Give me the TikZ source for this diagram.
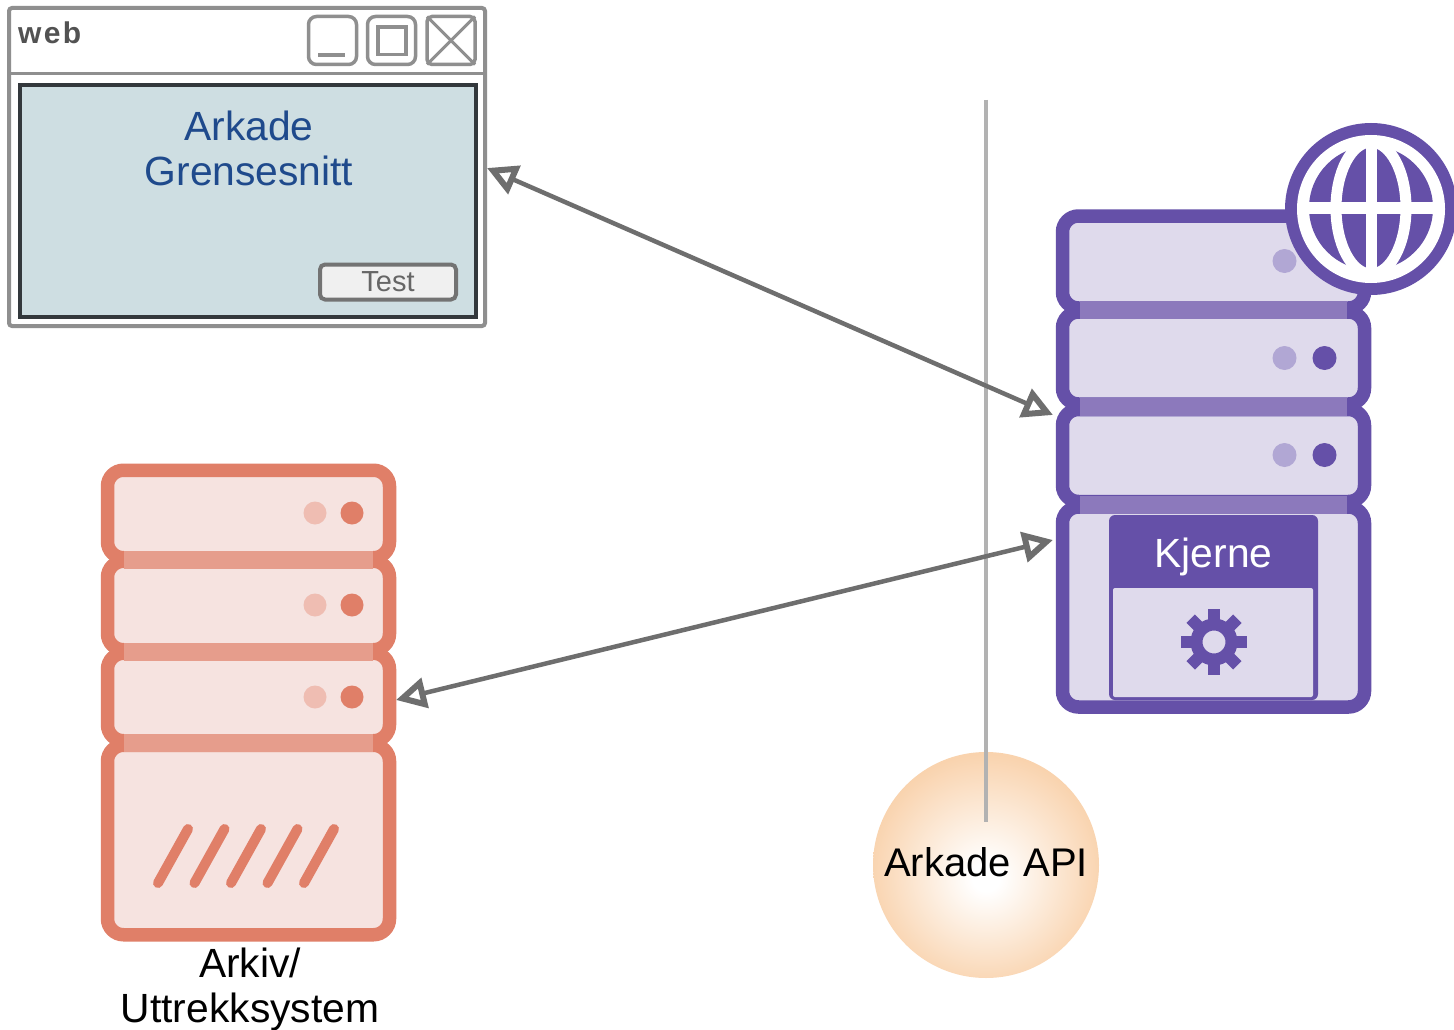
\documentclass[tikz,border=0pt]{standalone}
\usepackage{fontspec}
\setmainfont{Liberation Sans}
\usetikzlibrary{arrows.meta}
\definecolor{purpledark}{HTML}{6550A8}
\definecolor{purplelight}{HTML}{DFDAEC}
\definecolor{purpleband}{HTML}{8C79BC}
\definecolor{purpledot}{HTML}{B1A7D4}
\definecolor{coraldark}{HTML}{E07F68}
\definecolor{corallight}{HTML}{F6E3E0}
\definecolor{coralband}{HTML}{E69D8C}
\definecolor{coraldot}{HTML}{EFBDB2}
\definecolor{wingray}{HTML}{8F8F8F}
\definecolor{arrowgray}{HTML}{6E6E6E}
\definecolor{screenfill}{HTML}{CEDEE2}
\definecolor{screenedge}{HTML}{33383C}
\definecolor{guiblue}{HTML}{1F4A8C}
\definecolor{apiedge}{HTML}{F9D3AE}
\pgfdeclareradialshading{apiglow}{\pgfpoint{0bp}{-3bp}}{color(0bp)=(white); color(3bp)=(white); color(26bp)=(apiedge); color(50bp)=(apiedge)}
\tikzset{
  box/.style={inner sep=0pt,outer sep=0pt,minimum width=#1},
  unit/.style n args={3}{box=#1,minimum height=#2,rounded corners=16pt,line width=13.5pt,draw=#3dark,fill=#3light},
  band/.style={inner sep=0pt,outer sep=0pt,minimum height=18pt,fill=#1band},
  dot/.style={circle,inner sep=0pt,outer sep=0pt,minimum size=#1},
  winbtn/.style={box=48pt,minimum height=48pt,draw=wingray,line width=3.5pt,rounded corners=8pt},
  label/.style={font=\fontsize{40.8pt}{45pt}\selectfont,align=center,inner sep=0pt},
  link/.style={draw=arrowgray,line width=4.5pt,{Triangle[open,length=30pt,width=30pt,line width=6pt]}-{Triangle[open,length=30pt,width=30pt,line width=6pt]}}
}
\begin{document}
\begin{tikzpicture}[x=1pt,y=-1pt]
  \useasboundingbox (0,0) rectangle (1454,1030);
  \fill[white] (0,0) rectangle (1454,1030);
  % window
  \node[box=476pt,minimum height=318pt,draw=wingray,line width=4pt,rounded corners=3pt,fill=white] (webwin) at (247,167) {};
  \draw[wingray,line width=3.5pt] (webwin.west |- 0,73.5) coordinate (barleft) -- (webwin.east |- 0,73.5) coordinate (barright);
  \node[anchor=base west,inner sep=0pt,font=\fontsize{30pt}{30pt}\selectfont\bfseries\addfontfeature{LetterSpace=8},text=black!68] (webtitle) at (18,44) {web};
  \node[winbtn] (minbtn) at (332.5,40.5) {};
  \node[winbtn] (maxbtn) at (391.5,40.5) {};
  \node[winbtn,rounded corners=5pt] (closebtn) at (451,40.5) {};
  \draw[wingray,line width=3.5pt] (318,55) -- (345,55);
  \draw[wingray,line width=3.5pt] (378,27) rectangle (406,54.5);
  \draw[wingray,line width=3pt] (closebtn.north west) -- (closebtn.south east);
  \draw[wingray,line width=3pt] (closebtn.north east) -- (closebtn.south west);
  \node[box=456pt,minimum height=232pt,draw=screenedge,line width=4pt,fill=screenfill] (screen) at (248,201) {};
  \node[label,text=guiblue] (guitext) at (249,148) {Arkade\\ Grensesnitt};
  \node[box=136pt,minimum height=35pt,draw=black!55,line width=4pt,rounded corners=5pt,fill=black!6,text=black!60,font=\fontsize{29pt}{29pt}\selectfont] (testbtn) at (388,282) {Test};
  % separator line and API circle
  \node[dot=226pt,shading=apiglow] (api) at (986,865) {};
  \coordinate (apitop) at (986,100);
  \coordinate (apiend) at (986,822);
  \draw[black!30,line width=4.5pt] (apitop) -- (apiend);
  \node[label,font=\fontsize{40pt}{45pt}\selectfont,text=black] (apitext) at (986,862) {Arkade\hspace{1.5pt} API};
  % archive server
  \node[unit={282pt}{87.5pt}{coral}] (arka) at (248.5,514) {};
  \node[unit={282pt}{88.5pt}{coral}] (arkb) at (248.5,605.5) {};
  \node[unit={282pt}{87.5pt}{coral}] (arkc) at (248.5,697) {};
  \node[unit={282pt}{189.5pt}{coral}] (arkd) at (248.5,840) {};
  \foreach \y in {559.5,651.5,743} {
    \node[band=coral,minimum width=249pt] at (248.5,\y) {};
  }
  \foreach \y in {513,605,697} {
    \node[dot=23pt,fill=coraldot] at (315,\y) {};
    \node[dot=23pt,fill=coraldark] at (352,\y) {};
  }
  \foreach \i in {0,...,4} {
    \draw[coraldark,line width=10pt,line cap=round] (158+36.5*\i,883) -- (188+36.5*\i,829);
  }
  \node[label,text=black] (arktext) at (250,989) {Arkiv/\\ Uttrekksystem};
  % core server
  \node[unit={302pt}{92pt}{purple}] (kjea) at (1213.5,262) {};
  \node[unit={302pt}{92pt}{purple}] (kjeb) at (1213.5,358) {};
  \node[unit={302pt}{92pt}{purple}] (kjec) at (1213.5,455.5) {};
  \node[unit={302pt}{200pt}{purple}] (kjed) at (1213.5,607) {};
  \foreach \y in {310,406.5,504.5} {
    \node[band=purple,minimum width=267pt] at (1213.5,\y) {};
  }
  \foreach \y in {261,358,455} {
    \node[dot=24pt,fill=purpledot] at (1284.5,\y) {};
  }
  \foreach \y in {358,455} {
    \node[dot=24pt,fill=purpledark] at (1324.5,\y) {};
  }
  \node[box=209pt,minimum height=185pt,fill=purpledark,rounded corners=6pt] (core) at (1213.5,607.5) {};
  \node[box=200pt,minimum height=109pt,fill=purplelight,rounded corners=2pt] (corebody) at (1213,642.5) {};
  \node[label,text=white] (coretext) at (1213.5,557) {Kjerne};
  % gear
  \foreach \a in {0,45,...,315} {
    \fill[purpledark,rotate around={\a:(1214,642)}] (1208,609) rectangle (1220,630);
  }
  \node[dot=35pt,draw=purpledark,line width=12pt,fill=purplelight] (gear) at (1214,642) {};
  % globe
  \node[dot=172pt,fill=purpledark] (globe) at (1371,209) {};
  \node[dot=148pt,fill=white] (globering) at (1371,209) {};
  \node[dot=124pt,fill=purpledark] (globedisc) at (1371,208) {};
  \draw[white,line width=11pt] (1371,208) ellipse (35 and 66);
  \draw[white,line width=11pt] (1371,142) -- (1371,274);
  \draw[white,line width=12pt] (1304,208) -- (1438,208);
  % links
  \coordinate (webport) at (487,168);
  \coordinate (kjeport) at (1053,415);
  \coordinate (arkport) at (396,700);
  \coordinate (kjeportb) at (1053,540);
  \draw[link] (webport) -- (kjeport);
  \draw[link] (arkport) -- (kjeportb);
\end{tikzpicture}
\end{document}
